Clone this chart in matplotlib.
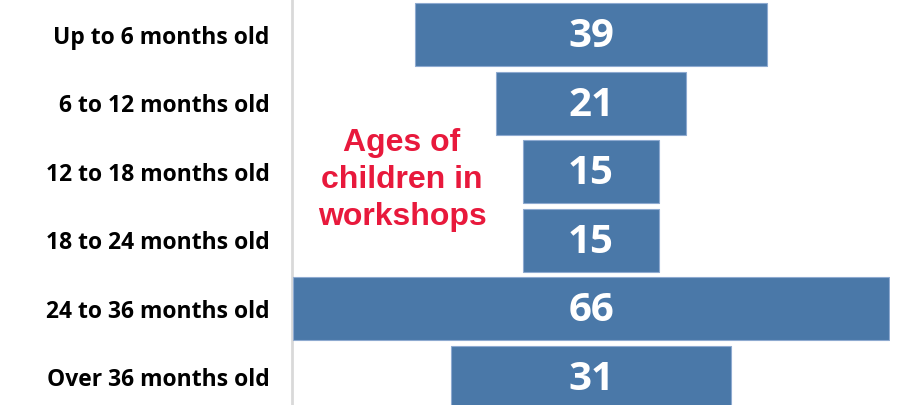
import matplotlib.pyplot as plt

# age groups of children and counts
categories = ["Up to 6 months old", "6 to 12 months old", "12 to 18 months old",
              "18 to 24 months old", "24 to 36 months old", "Over 36 months old"]
counts = [39, 21, 15, 15, 66, 31]

BAR_COLOR = "#4a78a8"
EDGE_COLOR = "#8eaad0"
RED = "#e8193c"

W, H = 897, 405
fig = plt.figure(figsize=(W / 100, H / 100), dpi=100)
ax = fig.add_axes([292 / W, 0, 598 / W, 1])

ypos = list(range(len(categories)))
lefts = [-c / 2 for c in counts]
ax.barh(ypos, counts, left=lefts, height=0.92, color=BAR_COLOR,
        edgecolor=EDGE_COLOR, linewidth=0.8, zorder=3)

for y, c in zip(ypos, counts):
    ax.text(0, y + 0.03, str(c), ha="center", va="center", color="white",
            fontsize=29, fontweight="bold", family="Open Sans", zorder=4)

ax.set_xlim(-33.1, 33.1)
ax.set_ylim(5.401, -0.503)

ax.set_yticks(ypos)
ax.set_yticklabels(categories, fontsize=16.5, fontweight="bold", family="Open Sans")
ax.tick_params(axis="y", length=0, pad=16)
ax.set_xticks([])

for side in ["top", "right", "bottom"]:
    ax.spines[side].set_visible(False)
ax.spines["left"].set_color("#d9d9d9")
ax.spines["left"].set_linewidth(2)
ax.spines["left"].set_zorder(1)

fig.text(402 / W, 1 - 180 / H, "Ages of\nchildren in\nworkshops", ha="center",
         va="center", color=RED, fontsize=23, fontweight="bold",
         family="Liberation Sans", linespacing=1.32)

fig.savefig("out.png", dpi=100)
